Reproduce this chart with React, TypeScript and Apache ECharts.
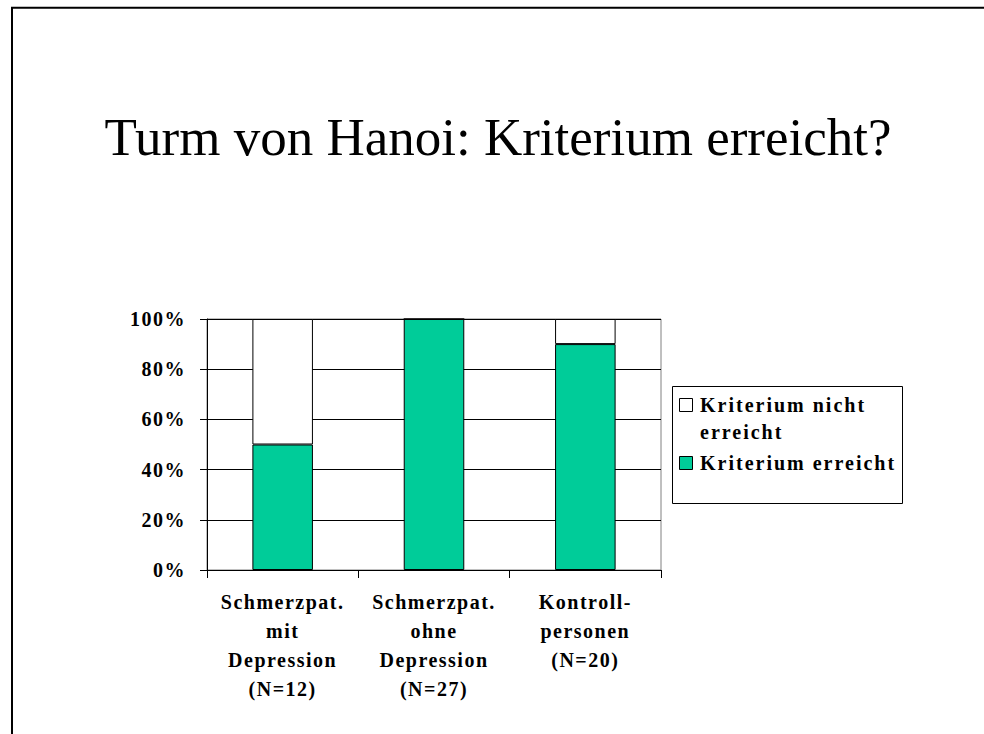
import React, { useEffect, useRef } from "react";
import * as echarts from "echarts";

const titleText = "Turm von Hanoi: Kriterium erreicht?";
const categories = [
  "Schmerzpat.\nmit\nDepression\n(N=12)",
  "Schmerzpat.\nohne\nDepression\n(N=27)",
  "Kontroll-\npersonen\n(N=20)",
];
const seriesNames = ["Kriterium nicht erreicht", "Kriterium erreicht"];
const legendLines = [["Kriterium nicht", "erreicht"], ["Kriterium erreicht"]];
const reached = [50, 100, 90];
const notReached = [50, 0, 10];
const yMin = 0;
const yMax = 100;
const yStep = 20;

const GREEN = "#00CC99";
const FONT = "Liberation Serif";

export default function App() {
  const ref = useRef<HTMLDivElement>(null);

  useEffect(() => {
    if (!ref.current) return;
    const chart = echarts.init(ref.current, null, { renderer: "svg" });
    const labelStyle = {
      fontFamily: FONT,
      fontWeight: "bold" as const,
      fontSize: 20,
      color: "#000",
    };
    const legendFont = `bolder 20px "${FONT}"`;
    chart.setOption({
      animation: false,
      backgroundColor: "#fff",
      title: {
        text: titleText,
        left: 498,
        top: 110.5,
        padding: 0,
        textAlign: "center",
        textStyle: {
          fontFamily: FONT,
          fontWeight: "normal",
          fontSize: 53,
          lineHeight: 53,
          color: "#000",
        },
      },
      grid: {
        left: 207,
        top: 319,
        right: 323,
        bottom: 164,
        show: true,
        borderColor: "#808080",
        borderWidth: 1,
        backgroundColor: "transparent",
      },
      xAxis: {
        type: "category",
        data: categories,
        axisLine: { show: true, lineStyle: { color: "#000", width: 1 } },
        axisTick: { show: true, length: 8, alignWithLabel: false, lineStyle: { color: "#000" } },
        axisLabel: { ...labelStyle, margin: 17, lineHeight: 29, interval: 0 },
        splitLine: { show: false },
      },
      yAxis: {
        type: "value",
        min: yMin,
        max: yMax,
        interval: yStep,
        axisLine: { show: true, lineStyle: { color: "#000", width: 1 } },
        axisTick: { show: true, length: 7, lineStyle: { color: "#000" } },
        axisLabel: { ...labelStyle, margin: 21, formatter: "{value}%" },
        splitLine: { show: true, lineStyle: { color: "#000", width: 1 } },
      },
      series: [
        {
          name: seriesNames[1],
          type: "bar",
          stack: "total",
          barWidth: "40%",
          data: reached,
          itemStyle: { color: GREEN, borderColor: "#000", borderWidth: 1 },
        },
        {
          name: seriesNames[0],
          type: "bar",
          stack: "total",
          barWidth: "40%",
          data: notReached,
          itemStyle: { color: "#fff", borderColor: "#000", borderWidth: 1 },
        },
      ],
      graphic: [
        {
          type: "polyline",
          shape: { points: [[12, 734], [12, 7.8], [984, 7.8]] },
          style: { stroke: "#000", lineWidth: 2, fill: null },
          silent: true,
        },
        {
          type: "group",
          left: 672,
          top: 386,
          children: [
            {
              type: "rect",
              shape: { x: 0.5, y: 0.5, width: 230, height: 117 },
              style: { fill: "#fff", stroke: "#000", lineWidth: 1 },
            },
            {
              type: "rect",
              shape: { x: 7.5, y: 12.5, width: 13, height: 13 },
              style: { fill: "#fff", stroke: "#000", lineWidth: 1 },
            },
            {
              type: "text",
              x: 28,
              y: 19,
              style: {
                text: legendLines[0][0],
                font: legendFont,
                fill: "#000",
                align: "left",
                verticalAlign: "middle",
              },
            },
            {
              type: "text",
              x: 28,
              y: 45.6,
              style: {
                text: legendLines[0][1],
                font: legendFont,
                fill: "#000",
                align: "left",
                verticalAlign: "middle",
              },
            },
            {
              type: "rect",
              shape: { x: 7.5, y: 70.5, width: 13, height: 13 },
              style: { fill: GREEN, stroke: "#000", lineWidth: 1 },
            },
            {
              type: "text",
              x: 28,
              y: 77.3,
              style: {
                text: legendLines[1][0],
                font: legendFont,
                fill: "#000",
                align: "left",
                verticalAlign: "middle",
              },
            },
          ],
        },
      ],
    });
    return () => chart.dispose();
  }, []);

  return (
    <>
      <style>{`.chart-host text[style*="bold"] { letter-spacing: 1.5px; }
.chart-host text[style*="bolder"] { letter-spacing: 2px; }`}</style>
      <div
        ref={ref}
        className="chart-host"
        style={{ position: "absolute", left: 0, top: 0, width: 984, height: 734 }}
      />
    </>
  );
}
